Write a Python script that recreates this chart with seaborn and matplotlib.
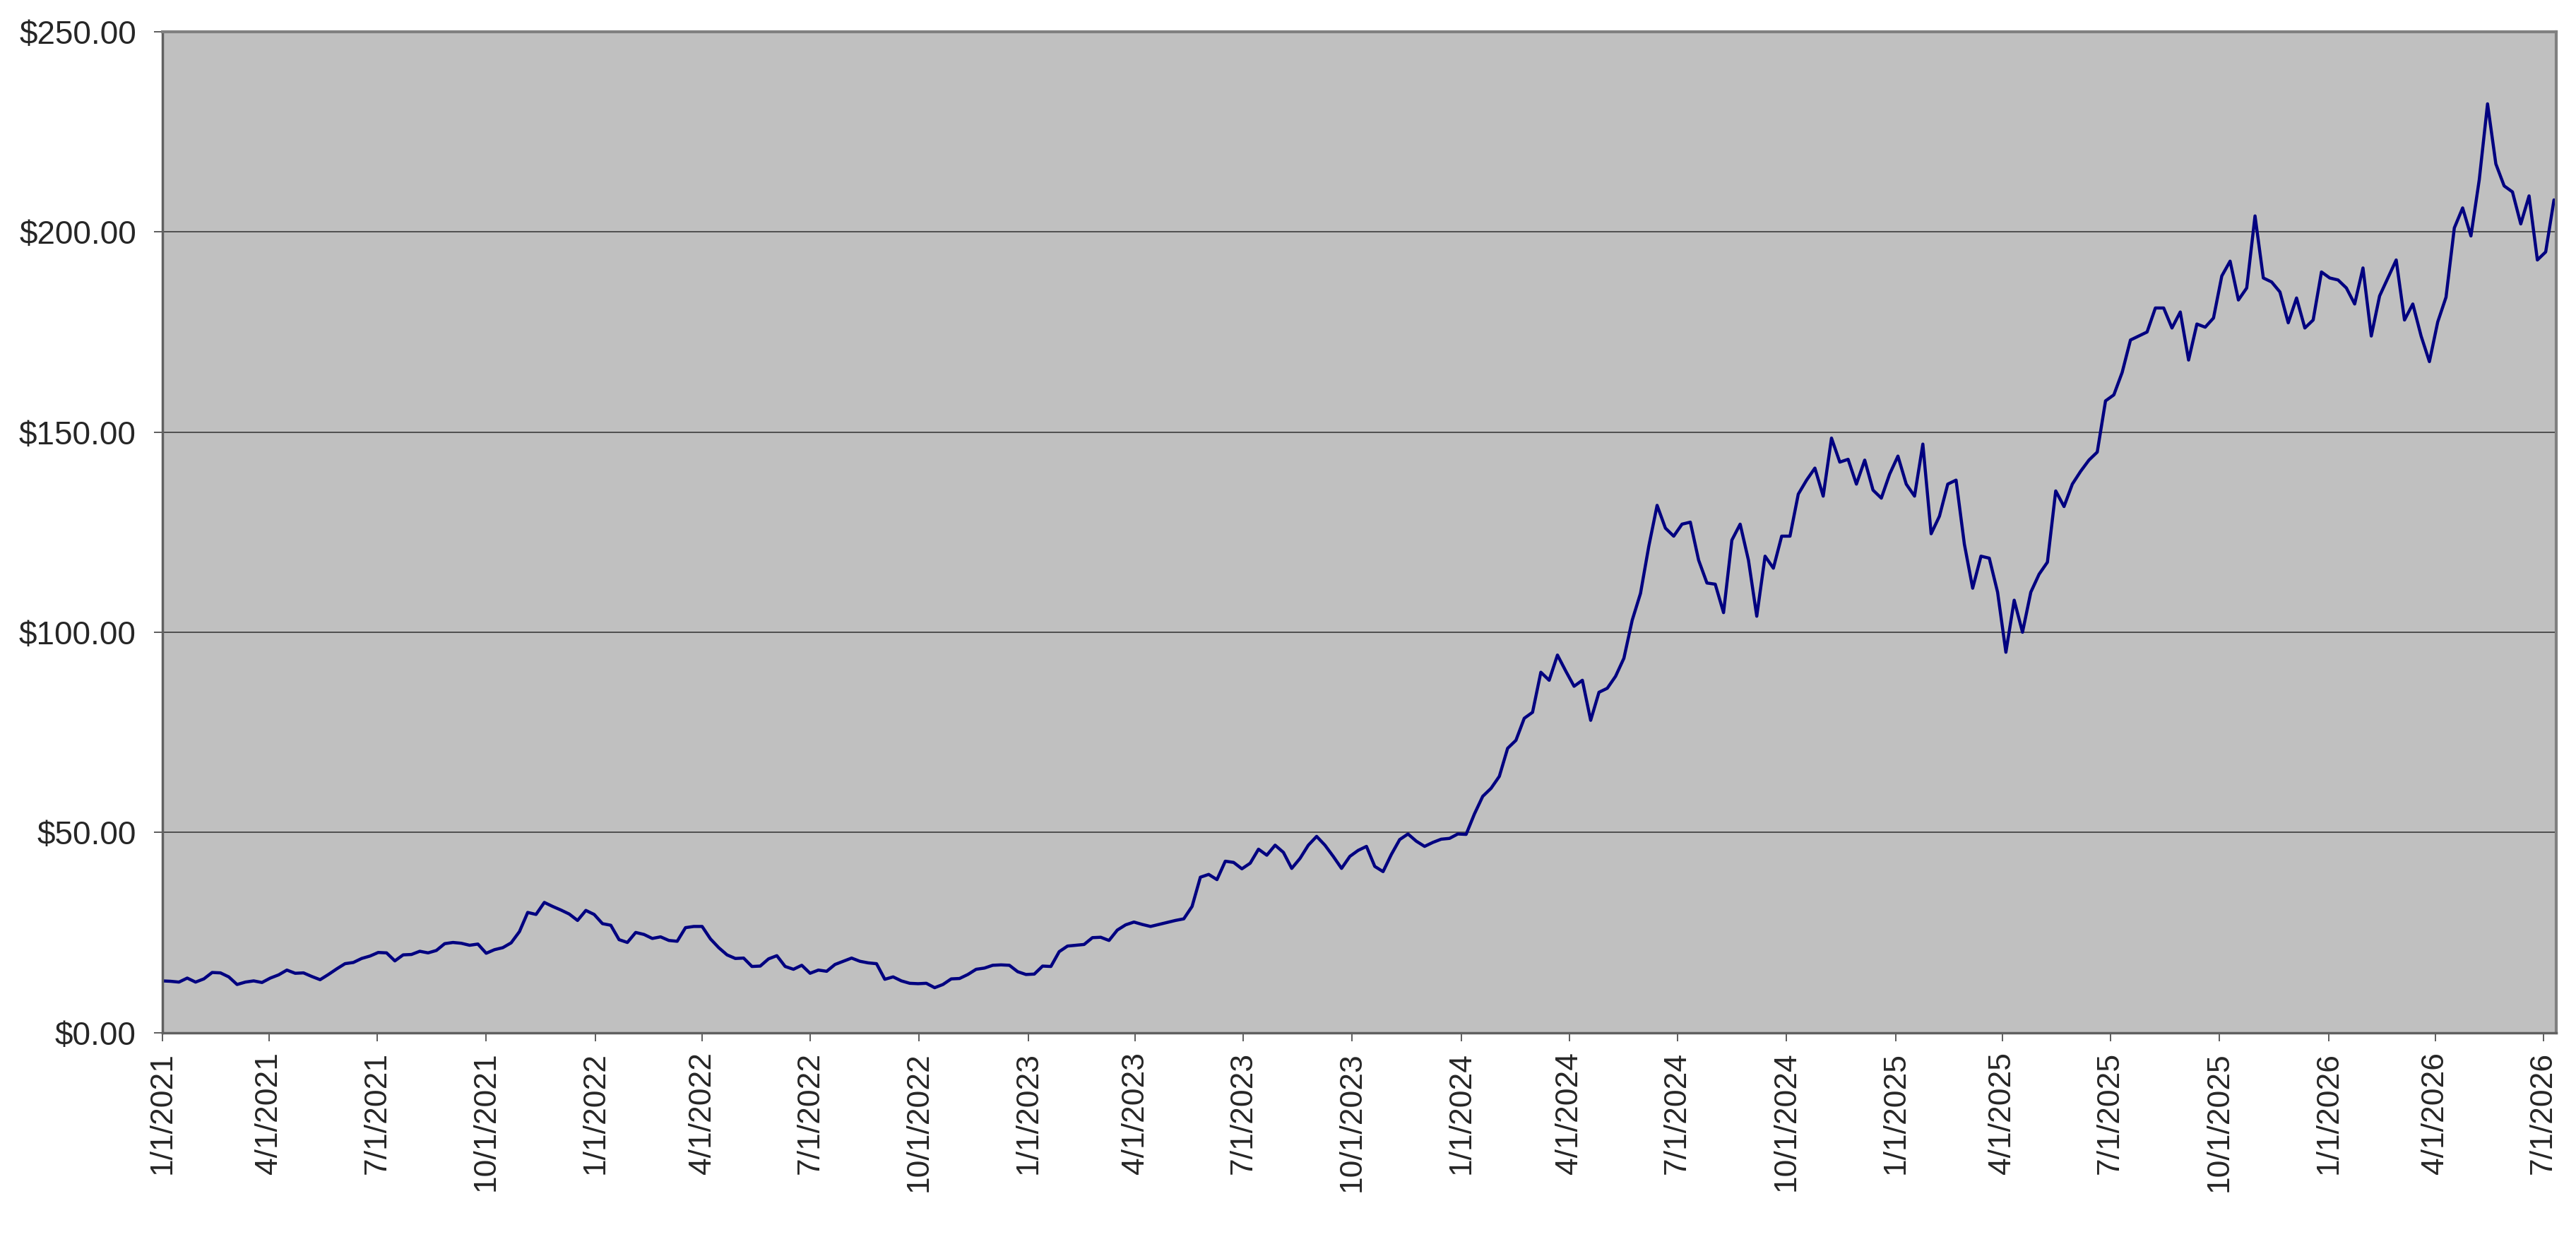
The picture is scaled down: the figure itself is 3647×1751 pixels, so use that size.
import pandas as pd
import numpy as np
import matplotlib
matplotlib.use('Agg')
import matplotlib.pyplot as plt
import matplotlib.ticker as mticker
import seaborn as sns

# weekly closing prices, starting 1/1/2021
prices_2021 = [12.9, 12.8, 12.6, 13.6, 12.6, 13.4, 15.0, 14.9, 13.9, 12.0,
               12.6, 12.9, 12.5, 13.6, 14.4, 15.6, 14.8, 14.9, 14.0, 13.2,
               14.5, 15.9, 17.2, 17.5, 18.5, 19.1, 20.0, 19.9, 17.9, 19.4,
               19.5, 20.3, 19.9, 20.5, 22.2, 22.5, 22.3, 21.8, 22.1, 19.8,
               20.7, 21.2, 22.4, 25.2, 30.0, 29.5, 32.5, 31.5, 30.6, 29.6,
               28.0, 30.5]
prices_2022 = [29.5, 27.2, 26.8, 23.2, 22.5, 25.0, 24.5, 23.5, 23.9, 23.0,
               22.8, 26.2, 26.5, 26.5, 23.4, 21.2, 19.4, 18.5, 18.6, 16.5,
               16.6, 18.4, 19.2, 16.5, 15.8, 16.8, 14.8, 15.6, 15.3, 17.0,
               17.8, 18.6, 17.8, 17.4, 17.2, 13.3, 13.9, 12.9, 12.3, 12.2,
               12.3, 11.2, 12.0, 13.4, 13.5, 14.5, 15.8, 16.1, 16.8, 16.9,
               16.8, 15.2]
prices_2023 = [14.5, 14.6, 16.6, 16.5, 20.2, 21.6, 21.8, 22.0, 23.7, 23.8,
               23.0, 25.6, 26.9, 27.6, 27.0, 26.5, 27.0, 27.5, 28.0, 28.4,
               31.5, 38.8, 39.5, 38.2, 42.8, 42.5, 40.9, 42.3, 45.8, 44.3,
               46.8, 45.0, 41.0, 43.5, 46.8, 49.0, 46.8, 44.0, 41.0, 44.0,
               45.5, 46.5, 41.5, 40.2, 44.5, 48.2, 49.6, 47.8, 46.5, 47.5,
               48.3, 48.5, 49.6]
prices_2024 = [49.5, 54.6, 59.0, 61.0, 64.0, 71.0, 73.0, 78.5, 80.0, 90.0,
               88.0, 94.3, 90.3, 86.5, 88.0, 78.0, 85.0, 86.0, 89.0, 93.5,
               103.0, 109.7, 121.5, 131.7, 126.0, 124.0, 127.0, 127.5, 118.0, 112.3,
               112.0, 104.9, 123.0, 127.0, 118.0, 104.0, 119.0, 116.0, 124.0, 124.0,
               134.5, 138.0, 141.0, 134.0, 148.5, 142.5, 143.2, 137.0, 143.0, 135.5,
               133.5, 139.5]
prices_2025 = [144.0, 137.0, 134.0, 147.0, 124.6, 129.0, 137.0, 138.0, 122.0, 111.0,
               119.0, 118.5, 110.0, 95.0, 108.0, 100.0, 110.0, 114.5, 117.5, 135.3,
               131.4, 137.0, 140.2, 143.0, 145.0, 157.8, 159.3, 164.9, 173.0, 174.0,
               175.0, 181.0, 181.0, 176.0, 180.0, 168.0, 177.0, 176.2, 178.5, 189.0,
               192.7, 183.0, 186.0, 204.0, 188.5, 187.5, 185.0, 177.3, 183.5, 176.0,
               178.0, 190.0]
prices_2026 = [188.5, 188.0, 186.0, 182.0, 191.0, 174.0, 184.0, 188.5, 193.0, 178.0,
               182.0, 174.0, 167.6, 177.5, 183.7, 201.0, 206.0, 199.0, 213.0, 232.0,
               217.0, 211.5, 210.0, 202.0, 209.0, 193.0, 195.0, 208.0]

prices = prices_2021 + prices_2022 + prices_2023 + prices_2024 + prices_2025 + prices_2026
dates = pd.date_range('2021-01-01', periods=len(prices), freq='7D')
df = pd.DataFrame({'date': dates, 'price': prices})

tick_dates = pd.date_range('2021-01-01', '2026-07-01', freq='QS')
tick_labels = [f"{d.month}/{d.day}/{d.year}" for d in tick_dates]
y_ticks = [0, 50, 100, 150, 200, 250]

sns.set_style('white')
plt.rcParams['font.family'] = ['Liberation Sans', 'DejaVu Sans']

fig = plt.figure(figsize=(36.48, 17.51), dpi=100)
ax = fig.add_axes([0.063, 0.1653, 0.9291, 0.809])
ax.set_facecolor('#C0C0C0')

sns.lineplot(data=df, x='date', y='price', ax=ax, color='#000080', linewidth=3.2)

ax.set_xlim(pd.Timestamp('2021-01-01'), pd.Timestamp('2026-07-12'))
ax.set_ylim(0, 250)
ax.set_yticks(y_ticks)
ax.yaxis.set_major_formatter(mticker.FuncFormatter(lambda v, p: f"${v:,.2f}"))
ax.set_xticks(tick_dates)
ax.set_xticklabels(tick_labels, rotation=90)

ax.grid(axis='y', color='#303030', linewidth=1.1)
ax.grid(axis='x', visible=False)
ax.set_axisbelow(True)

ax.tick_params(axis='y', direction='out', length=8.6, width=1.1, color='#303030',
               labelsize=33, pad=18, left=True)
ax.tick_params(axis='x', direction='out', length=8.6, width=1.1, color='#303030',
               labelsize=32, pad=11, bottom=True)

for side in ['top', 'right']:
    ax.spines[side].set_color('#808080')
    ax.spines[side].set_linewidth(3)
for side in ['left', 'bottom']:
    ax.spines[side].set_color('#606060')
    ax.spines[side].set_linewidth(2.5)

ax.set_xlabel('')
ax.set_ylabel('')

fig.savefig('out.png', dpi=100)
plt.close(fig)
